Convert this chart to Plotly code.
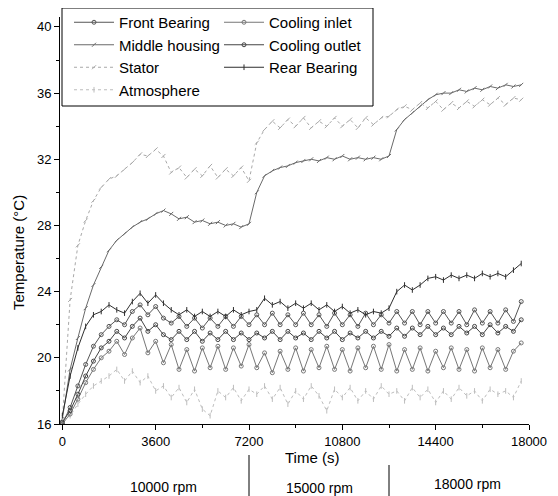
import plotly.graph_objects as go

time_s = [0, 300, 600, 900, 1200, 1500, 1800, 2100, 2400, 2700,
          3000, 3300, 3600, 3900, 4200, 4500, 4800, 5100, 5400, 5700,
          6000, 6300, 6600, 6900, 7200, 7500, 7800, 8100, 8400, 8700,
          9000, 9300, 9600, 9900, 10200, 10500, 10800, 11100, 11400, 11700,
          12000, 12300, 12600, 12900, 13200, 13500, 13800, 14100, 14400, 14700,
          15000, 15300, 15600, 15900, 16200, 16500, 16800, 17100, 17400, 17700]

front_bearing = [16.0, 17.0, 18.3, 19.6, 20.7, 21.4, 21.9, 22.3, 22.0, 22.8,
                 23.2, 22.6, 23.1, 22.4, 22.1, 22.5, 21.9, 22.4, 21.8, 22.4,
                 21.9, 22.5, 21.9, 22.5, 22.0, 22.6, 22.0, 22.7, 22.0, 22.6,
                 22.0, 22.7, 22.0, 22.6, 21.9, 22.7, 22.0, 22.6, 21.9, 22.7,
                 22.0, 22.6, 22.1, 22.8, 22.1, 22.8, 22.0, 22.8, 22.1, 22.8,
                 22.1, 22.8, 22.0, 22.9, 22.1, 22.8, 22.1, 22.9, 22.2, 23.4]

middle_housing = [16.3, 19.3, 21.2, 23.0, 24.4, 25.5, 26.5, 27.1, 27.5, 27.9,
                  28.2, 28.4, 28.7, 28.9, 28.7, 28.4, 28.5, 28.2, 28.3, 28.1,
                  28.2, 28.0, 28.1, 27.9, 28.1, 30.0, 31.0, 31.3, 31.5, 31.6,
                  31.8, 31.9, 32.0, 31.9, 32.1, 32.0, 32.2, 32.0, 32.1, 32.0,
                  32.1, 32.0, 32.2, 33.8, 34.4, 34.8, 35.2, 35.6, 35.9, 36.0,
                  36.0, 36.2, 36.1, 36.3, 36.2, 36.4, 36.3, 36.5, 36.4, 36.5]

stator = [16.2, 23.5, 26.8, 28.3, 29.5, 30.3, 30.8, 31.0, 31.4, 31.8,
          32.3, 32.2, 32.6, 32.2, 31.2, 31.5, 30.9, 31.4, 31.0, 31.6,
          30.9, 31.4, 31.0, 31.5, 30.7, 33.0, 33.8, 34.3, 33.9, 34.4,
          34.0, 34.5, 33.9, 34.3, 34.0, 34.5, 34.0, 34.4, 33.9, 34.5,
          34.1, 34.5, 34.6, 35.0, 35.2, 35.0, 35.4, 35.1, 35.5, 35.0,
          35.4, 35.1, 35.5, 35.2, 35.6, 35.3, 35.7, 35.3, 35.7, 35.6]

atmosphere = [16.2, 16.5, 17.2, 17.8, 18.3, 18.6, 18.9, 19.3, 18.6, 19.2,
              18.5, 18.9, 18.0, 18.3, 17.6, 18.2, 17.3, 18.1, 16.9, 16.5,
              18.0, 17.6, 18.2, 17.4, 18.1, 17.8, 18.3, 17.5, 18.2, 17.2,
              18.0, 17.5, 18.3, 17.7, 16.8, 18.1, 17.6, 18.2, 17.4, 18.0,
              17.5, 18.3, 17.8, 18.0, 17.4, 18.2, 17.6, 18.1, 17.3, 18.0,
              17.5, 18.2, 17.7, 18.0, 17.4, 18.1, 17.8, 18.0, 17.6, 18.6]

cooling_inlet = [16.0, 16.6, 17.5, 18.5, 19.3, 20.0, 20.4, 21.0, 20.2, 21.2,
                 21.8, 20.3, 21.0, 19.7, 20.8, 19.3, 20.5, 19.2, 20.6, 19.4,
                 20.7, 19.3, 20.6, 19.5, 20.8, 19.4, 20.3, 19.1, 20.4, 19.3,
                 20.6, 19.2, 20.5, 19.4, 20.7, 19.3, 20.5, 19.2, 20.6, 19.4,
                 20.7, 19.3, 20.8, 19.2, 20.5, 19.3, 20.6, 19.2, 20.4, 19.4,
                 20.6, 19.3, 20.5, 19.2, 20.6, 19.4, 20.5, 19.3, 20.4, 20.9]

cooling_outlet = [16.1, 16.8, 17.8, 18.9, 19.8, 20.6, 21.0, 21.6, 21.2, 21.9,
                  22.4, 21.6, 22.0, 21.4, 21.1, 21.6, 21.1, 21.6, 21.0, 21.5,
                  21.1, 21.6, 21.1, 21.5, 21.1, 21.5, 21.2, 21.6, 21.1, 21.6,
                  21.2, 21.5, 21.1, 21.6, 21.2, 21.6, 21.1, 21.5, 21.2, 21.6,
                  21.2, 21.6, 21.3, 21.8, 21.3, 21.8, 21.4, 21.9, 21.4, 21.8,
                  21.4, 21.9, 21.5, 21.9, 21.4, 22.0, 21.5, 21.9, 21.6, 22.3]

rear_bearing = [16.5, 18.9, 20.6, 21.9, 22.6, 22.8, 23.2, 22.9, 22.7, 23.4,
                23.9, 23.3, 23.8, 23.3, 22.9, 22.6, 22.9, 22.5, 22.8, 22.5,
                22.8, 22.5, 22.9, 22.6, 22.8, 22.9, 23.6, 23.2, 23.4, 23.0,
                23.3, 23.0, 23.3, 22.9, 23.2, 22.8, 23.1, 22.7, 22.9, 22.6,
                22.8, 22.7, 23.0, 24.0, 24.4, 24.1, 24.4, 24.8, 24.9, 24.7,
                25.0, 24.8, 25.0, 24.8, 25.1, 24.9, 25.1, 24.9, 25.3, 25.7]

x_ticks = [0, 3600, 7200, 10800, 14400, 18000]
x_tick_text = ["0", "3600", "7200", "10800", "14400", "18000"]
y_ticks = [16, 20, 24, 28, 32, 36, 40]
speed_labels = ["10000 rpm", "15000 rpm", "18000 rpm"]
speed_breaks = [7200, 12600]

FONT = "Liberation Sans, Arial, sans-serif"

series = [
    ("Front Bearing", front_bearing, "#555555", "circle-open", "solid", "legend"),
    ("Middle housing", middle_housing, "#6a6a6a", "line-ne", "solid", "legend"),
    ("Stator", stator, "#a8a8a8", "line-ne", "dot", "legend"),
    ("Atmosphere", atmosphere, "#bdbdbd", "line-ns", "dot", "legend"),
    ("Cooling inlet", cooling_inlet, "#777777", "circle-open", "solid", "legend2"),
    ("Cooling outlet", cooling_outlet, "#444444", "circle-open", "solid", "legend2"),
    ("Rear Bearing", rear_bearing, "#2e2e2e", "line-ns", "solid", "legend2"),
]

fig = go.Figure()
for name, vals, col, sym, dash, leg in series:
    fig.add_trace(go.Scatter(
        x=time_s, y=vals, name=name, mode="lines+markers",
        line=dict(color=col, width=1, dash=dash),
        marker=dict(symbol=sym, size=4, color=col, line=dict(color=col, width=1)),
        legend=leg,
    ))

# page body adds an 8px offset; all targets below are in window pixels
OFF = 8
W, H = 550, 488
PL, PR, PT, PB = 60, 529, 17, 424          # plot area in window pixels
L, T = PL - OFF, PT - OFF
R, B = W - (PR - OFF), H - (PB - OFF)
pw, ph = W - L - R, H - T - B


def px(xp):
    return (xp - PL) / pw


def py(yp):
    return (PB - yp) / ph


fig.update_layout(
    width=W, height=H,
    margin=dict(l=L, r=R, t=T, b=B, autoexpand=False),
    paper_bgcolor="white", plot_bgcolor="white",
    font=dict(family=FONT, size=13, color="black"),
    showlegend=True,
    legend=dict(x=px(69), y=py(6), xanchor="left", yanchor="top",
                bgcolor="rgba(0,0,0,0)", borderwidth=0,
                font=dict(family=FONT, size=15, color="black"),
                tracegroupgap=0, itemwidth=40),
    legend2=dict(x=px(219), y=py(6), xanchor="left", yanchor="top",
                 bgcolor="rgba(0,0,0,0)", borderwidth=0,
                 font=dict(family=FONT, size=15, color="black"),
                 tracegroupgap=0, itemwidth=40),
    xaxis=dict(range=[-90, 18000], tickvals=x_ticks, ticktext=x_tick_text,
               ticks="outside", ticklen=5, automargin=False,
               tickcolor="black", showline=True, linecolor="black", linewidth=1,
               showgrid=False, zeroline=False, tickfont=dict(size=13),
               minor=dict(dtick=1800, tick0=0, ticks="outside", ticklen=3,
                          tickcolor="black", showgrid=False)),
    yaxis=dict(range=[16, 40.6], tickvals=y_ticks, ticks="outside", ticklen=5,
               tickcolor="black", showline=True, linecolor="black", linewidth=1,
               showgrid=False, zeroline=False, tickfont=dict(size=13), automargin=False,
               minor=dict(dtick=2, tick0=16, ticks="outside", ticklen=3,
                          tickcolor="black", showgrid=False)),
)

# legend frame
fig.add_shape(type="rect", xref="paper", yref="paper",
              x0=px(62), x1=px(373), y0=py(106), y1=py(8),
              line=dict(color="black", width=1), fillcolor="rgba(0,0,0,0)")

# axis titles
fig.add_annotation(text="Temperature (°C)", xref="paper", yref="paper",
                   x=px(18), y=py(253), textangle=-90, showarrow=False,
                   xanchor="center", yanchor="middle",
                   font=dict(size=15, family=FONT))
fig.add_annotation(text="Time (s)", xref="paper", yref="paper",
                   x=px(312), y=py(458), showarrow=False,
                   xanchor="center", yanchor="middle",
                   font=dict(size=15, family=FONT))

# speed regime labels
label_pos = [(163, 487), (319, 488), (467, 484)]
for lab, (lx, ly) in zip(speed_labels, label_pos):
    fig.add_annotation(text=lab, xref="paper", yref="paper", x=px(lx), y=py(ly),
                       xanchor="center", yanchor="middle",
                       showarrow=False, font=dict(size=14, family=FONT))

for xb, ytop in zip(speed_breaks, [455, 465]):
    fig.add_shape(type="line", xref="x", yref="paper", x0=xb, x1=xb,
                  y0=py(ytop), y1=py(496), line=dict(color="black", width=1))

fig.write_html("out.html")
